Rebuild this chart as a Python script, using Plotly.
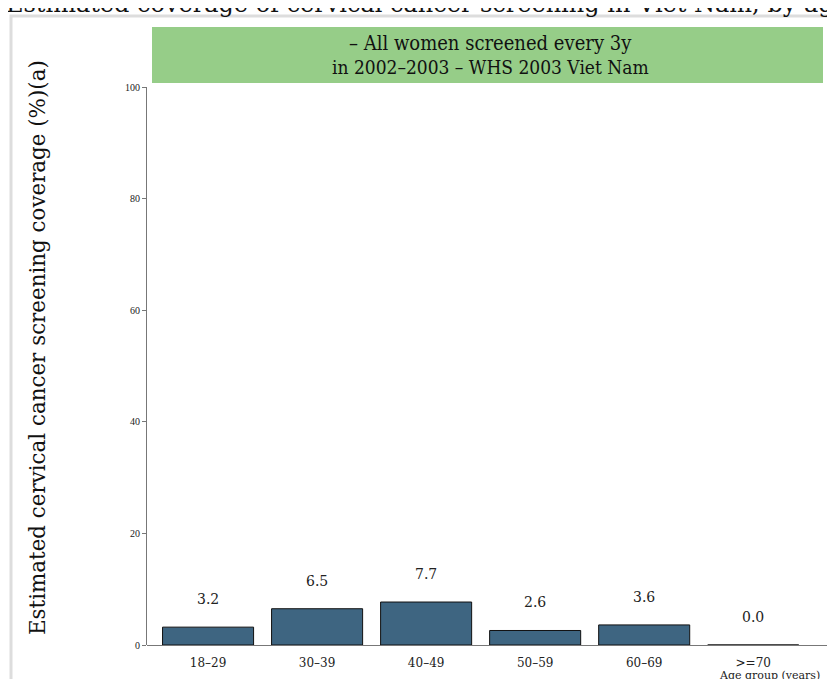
import plotly.graph_objects as go

# Data
age_groups = ["18–29", "30–39", "40–49", "50–59", "60–69", ">=70"]
coverage = [3.2, 6.5, 7.7, 2.6, 3.6, 0.0]
y_ticks = [0, 20, 40, 60, 80, 100]

serif = "DejaVu Serif"
PW, PH = 688, 558  # plot area size in px

fig = go.Figure()

fig.add_trace(
    go.Bar(
        x=age_groups,
        y=coverage,
        marker=dict(color="#3e6581", line=dict(color="#111111", width=1)),
        width=0.835,
        hoverinfo="x+y",
    )
)

# value labels above bars
for a, v in zip(age_groups, coverage):
    fig.add_annotation(
        x=a, y=v, text=f"{v:.1f}", showarrow=False,
        yshift=28, font=dict(family=serif, size=14, color="#222"),
    )

# green header box
fig.add_shape(
    type="rect", xref="paper", yref="paper",
    x0=5 / PW, x1=676 / PW, y0=1 + 4 / PH, y1=1 + 60 / PH,
    fillcolor="#96cd88", line=dict(width=0), layer="below",
)
fig.add_annotation(
    xref="paper", yref="paper", x=343 / PW, xanchor="center",
    y=1 + 44 / PH, yanchor="middle",
    text="– All women screened every 3y", showarrow=False,
    font=dict(family="DejaVu Serif Condensed", size=20, color="#111"),
)
fig.add_annotation(
    xref="paper", yref="paper", x=343 / PW, xanchor="center",
    y=1 + 20 / PH, yanchor="middle",
    text="in 2002–2003 – WHS 2003 Viet Nam", showarrow=False,
    font=dict(family="DejaVu Serif Condensed", size=19, color="#111"),
)

# x axis title at the bottom right
fig.add_annotation(
    xref="paper", yref="paper", x=622 / PW, xanchor="center",
    y=-30 / PH, yanchor="middle",
    text="Age group (years)", showarrow=False,
    font=dict(family=serif, size=11, color="#222"),
)

# y axis title
fig.add_annotation(
    xref="paper", yref="paper", x=-110 / PW, xanchor="center",
    y=297 / PH, yanchor="middle",
    text="Estimated cervical cancer screening coverage (%)(a)",
    textangle=-90, showarrow=False,
    font=dict(family=serif, size=21.4, color="#111"),
)

# chart title, partly cut off at the top
fig.add_annotation(
    xref="paper", yref="paper", x=-143 / PW, xanchor="left",
    y=1 + 83 / PH, yanchor="middle",
    text="Estimated coverage of cervical cancer screening in Viet Nam, by age group",
    showarrow=False,
    font=dict(family=serif, size=24, color="#111"),
)

# outer light-grey frame
fig.add_shape(
    type="rect", xref="paper", yref="paper",
    x0=-136 / PW, x1=1 + 40 / PW, y0=-80 / PH, y1=1 + 71 / PH,
    line=dict(color="#dddddd", width=3), fillcolor="rgba(0,0,0,0)",
)

fig.update_layout(
    width=835, height=679,
    margin=dict(l=139, r=8, t=79, b=42),
    plot_bgcolor="white", paper_bgcolor="white",
    showlegend=False,
    xaxis=dict(
        range=[-0.56, 5.75], showgrid=False, ticks="",
        showline=False, zeroline=False, ticklabelstandoff=9,
        tickfont=dict(family=serif, size=12, color="#222"),
    ),
    yaxis=dict(
        range=[0, 100], tickvals=y_ticks, showgrid=False,
        zeroline=True, zerolinecolor="#777", zerolinewidth=1,
        showline=True, linecolor="#777", linewidth=1,
        ticks="outside", ticklen=4, tickcolor="#777",
        tickfont=dict(family="Liberation Serif", size=10, color="#222"),
    ),
)

fig.write_html("out.html")
